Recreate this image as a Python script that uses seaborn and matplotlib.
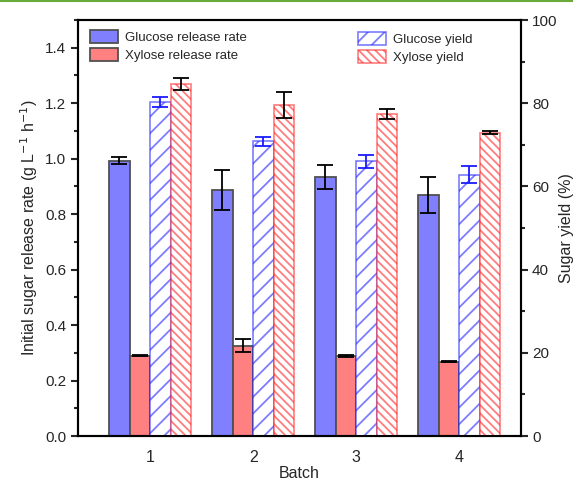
import matplotlib
matplotlib.use("Agg")
import matplotlib.pyplot as plt
from matplotlib.patches import Patch
from matplotlib.lines import Line2D
from matplotlib.ticker import MultipleLocator, FormatStrFormatter
import seaborn as sns
import pandas as pd

# ---- data ----
batches = ["1", "2", "3", "4"]
glucose_rate = [0.993, 0.887, 0.933, 0.869]
glucose_rate_err = [0.012, 0.072, 0.043, 0.066]
xylose_rate = [0.290, 0.325, 0.288, 0.268]
xylose_rate_err = [0.003, 0.023, 0.003, 0.002]
glucose_yield = [80.3, 70.8, 66.0, 62.8]
glucose_yield_err = [1.2, 1.1, 1.6, 2.0]
xylose_yield = [84.6, 79.6, 77.4, 72.9]
xylose_yield_err = [1.5, 3.1, 1.2, 0.35]

series = ["Glucose release rate", "Xylose release rate", "Glucose yield", "Xylose yield"]

sns.set_style("ticks")
plt.rcParams["font.family"] = ["Liberation Sans", "DejaVu Sans"]
plt.rcParams["hatch.linewidth"] = 1.3

fig = plt.figure(figsize=(5.73, 4.80), dpi=100)
ax1 = fig.add_axes([78/573, 44/480, 443/573, 416/480])
ax2 = ax1.twinx()

rate_df = pd.DataFrame({
    "Batch": batches * 2,
    "value": glucose_rate + xylose_rate,
    "series": [series[0]] * 4 + [series[1]] * 4,
})
yield_df = pd.DataFrame({
    "Batch": batches * 2,
    "value": glucose_yield + xylose_yield,
    "series": [series[2]] * 4 + [series[3]] * 4,
})

fill_pal = {series[0]: "#8080ff", series[1]: "#ff8080",
            series[2]: "white", series[3]: "white"}

sns.barplot(data=rate_df, x="Batch", y="value", hue="series", hue_order=series,
            palette=fill_pal, errorbar=None, width=0.8, ax=ax1, legend=False,
            edgecolor="#505050", linewidth=1.3, saturation=1)
sns.barplot(data=yield_df, x="Batch", y="value", hue="series", hue_order=series,
            palette=fill_pal, errorbar=None, width=0.8, ax=ax2, legend=False,
            linewidth=1.2, saturation=1)

BLUE_HATCH = "//"
RED_HATCH = "\\\\\\\\"

# style yield bars (alternating glucose / xylose by x position)
ypatches = sorted(ax2.patches, key=lambda p: p.get_x())
blue_edge = (0.15, 0.15, 1.0, 0.6)
red_edge = (1.0, 0.15, 0.15, 0.6)
for i, p in enumerate(ypatches):
    if i % 2 == 0:
        p.set_hatch(BLUE_HATCH)
        p.set_edgecolor(blue_edge)
    else:
        p.set_hatch(RED_HATCH)
        p.set_edgecolor(red_edge)
    p.set_facecolor("white")

# error bars
rpatches = sorted(ax1.patches, key=lambda p: p.get_x())
rvals = [v for pair in zip(glucose_rate, xylose_rate) for v in pair]
rerrs = [v for pair in zip(glucose_rate_err, xylose_rate_err) for v in pair]
rx = [p.get_x() + p.get_width() / 2 for p in rpatches]
ax1.errorbar(rx, rvals, yerr=rerrs, fmt="none", ecolor="black", elinewidth=1.3,
             capsize=5.5, capthick=1.3, zorder=5)

yx = [p.get_x() + p.get_width() / 2 for p in ypatches]
ax2.errorbar(yx[0::2], glucose_yield, yerr=glucose_yield_err, fmt="none",
             ecolor="#1a1aff", elinewidth=1.3, capsize=5.5, capthick=1.3, zorder=5)
ax2.errorbar(yx[1::2], xylose_yield, yerr=xylose_yield_err, fmt="none",
             ecolor="black", elinewidth=1.3, capsize=5.5, capthick=1.3, zorder=5)

# axes
ax1.set_xlim(-0.70, 3.60)
ax1.set_ylim(0, 1.5)
ax2.set_ylim(0, 100)
ax1.yaxis.set_major_locator(MultipleLocator(0.2))
ax1.yaxis.set_minor_locator(MultipleLocator(0.1))
ax1.yaxis.set_major_formatter(FormatStrFormatter("%.1f"))
ax2.yaxis.set_major_locator(MultipleLocator(20))
ax2.yaxis.set_minor_locator(MultipleLocator(10))

for ax in (ax1, ax2):
    for s in ax.spines.values():
        s.set_linewidth(1.5)
        s.set_color("black")
        s.set_visible(True)
ax1.tick_params(axis="y", which="major", length=5, width=1.5, labelsize=11, direction="out")
ax1.tick_params(axis="y", which="minor", length=3, width=1.5, direction="out")
ax2.tick_params(axis="y", which="major", length=5, width=1.5, labelsize=11, direction="out", pad=3)
ax2.tick_params(axis="y", which="minor", length=3, width=1.5, direction="out")
ax1.tick_params(axis="x", length=0, labelsize=11.5, pad=10)

ax1.set_xlabel("Batch", fontsize=11.5, labelpad=1)
ax1.set_ylabel("Initial sugar release rate (g L$^{-1}$ h$^{-1}$)", fontsize=11.5)
ax2.set_ylabel("Sugar yield (%)", fontsize=11.5, labelpad=1)

# legends
h1 = [Patch(facecolor="#8080ff", edgecolor="#505050", linewidth=1.3, label=series[0]),
      Patch(facecolor="#ff8080", edgecolor="#505050", linewidth=1.3, label=series[1])]
h2 = [Patch(facecolor="white", edgecolor=blue_edge, hatch=BLUE_HATCH, linewidth=1.2, label=series[2]),
      Patch(facecolor="white", edgecolor=red_edge, hatch=RED_HATCH, linewidth=1.2, label=series[3])]
leg1 = ax2.legend(handles=h1, loc="upper left", bbox_to_anchor=(0.028, 0.975),
                  frameon=False, fontsize=9.5, handlelength=2.1, handleheight=1.1,
                  handletextpad=0.5, labelspacing=0.3, borderpad=0, borderaxespad=0)
ax2.add_artist(leg1)
ax2.legend(handles=h2, loc="upper left", bbox_to_anchor=(0.633, 0.97),
           frameon=False, fontsize=9.5, handlelength=2.1, handleheight=1.1,
           handletextpad=0.5, labelspacing=0.3, borderpad=0, borderaxespad=0)

# green rule at top of page
fig.add_artist(Line2D([0, 1], [0.998, 0.998], transform=fig.transFigure,
                      color="#6aaa3a", linewidth=1.5))

fig.savefig("out.png", dpi=100)
